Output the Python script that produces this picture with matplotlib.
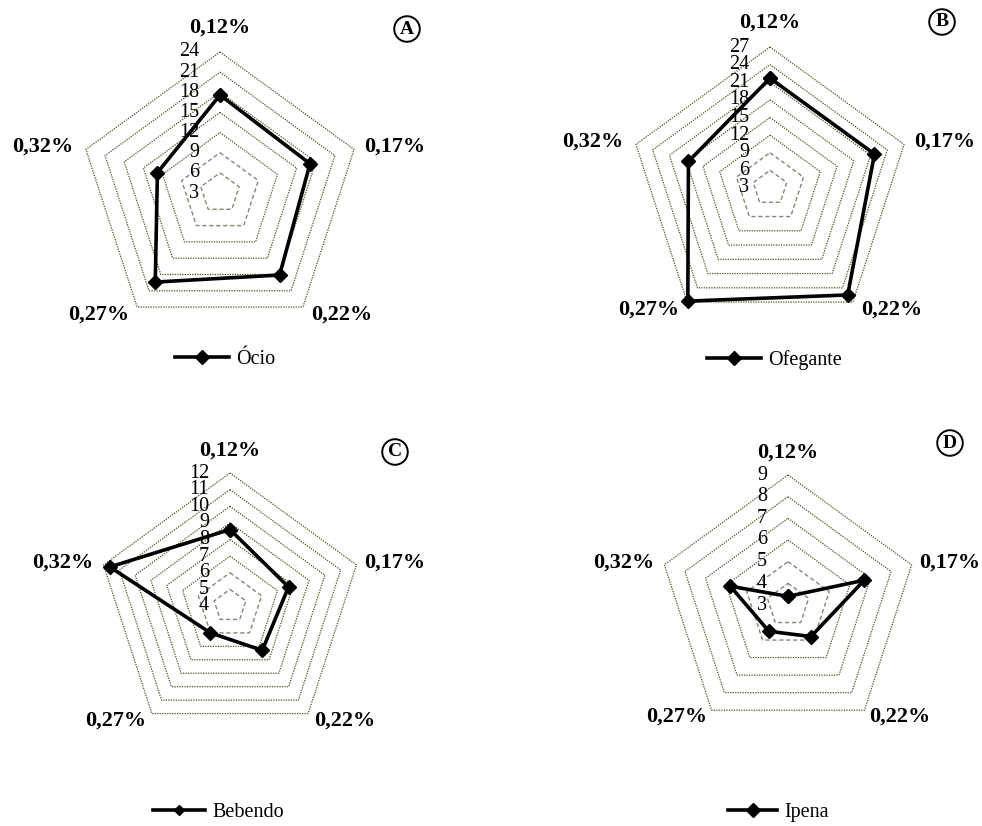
import numpy as np
import matplotlib.pyplot as plt

plt.rcParams['font.family'] = ['Liberation Serif', 'DejaVu Serif']

categorias = ['0,12%', '0,17%', '0,22%', '0,27%', '0,32%']

ocio = [17.6, 17.1, 18.1, 19.4, 12.8]
ofegante = [21.7, 21.7, 25.5, 26.8, 17.6]
bebendo = [8.6, 7.7, 7.3, 6.0, 11.6]
ipena = [3.4, 6.7, 4.8, 4.5, 5.8]

ticks_a = [3, 6, 9, 12, 15, 18, 21, 24]
ticks_b = [3, 6, 9, 12, 15, 18, 21, 24, 27]
ticks_c = [4, 5, 6, 7, 8, 9, 10, 11, 12]
ticks_d = [3, 4, 5, 6, 7, 8, 9]

W, H = 982, 826
fig = plt.figure(figsize=(W / 100, H / 100), dpi=100)

# eixos do radar: 0,12% no topo, sentido horario
ang = np.deg2rad(np.arange(5) * 72)
ux, uy = np.sin(ang), np.cos(ang)

# posicao dos rotulos das categorias (em unidades de raio)
pos_rot = [(0, 1.17), (1.24, 0.33), (0.86, -0.86), (-0.86, -0.86), (-1.26, 0.33)]

verde = '#3d5c1e'


def fechado(r):
    xs = r * ux
    ys = r * uy
    return np.append(xs, xs[0]), np.append(ys, ys[0])


def radar(caixa, cx, cy, R, ticks, valores, nome, letra, letra_xy, leg_xy,
          handle_len=2.7, mscale=1.0):
    x0, y0, x1, y1 = caixa
    ax = fig.add_axes([x0 / W, 1 - y1 / H, (x1 - x0) / W, (y1 - y0) / H])
    ax.set_xlim((x0 - cx) / R, (x1 - cx) / R)
    ax.set_ylim((cy - y1) / R, (cy - y0) / R)
    ax.axis('off')

    vmin, vmax = ticks[0], ticks[-1]

    def esc(v):
        return (np.asarray(v, float) - vmin) / (vmax - vmin)

    # grade pentagonal
    for i, t in enumerate(ticks[1:]):
        xs, ys = fechado(esc(t) * np.ones(5))
        if i < 2:
            ax.plot(xs, ys, color='#7d8a70', lw=1.0, ls=(0, (3, 2)))
        else:
            ax.plot(xs, ys, color=verde, lw=0.9, ls=(0, (1, 1)))

    for t in ticks:
        ax.text(-21 / R, esc(t), str(t), ha='right', va='center', fontsize=14.5)

    for (px, py), c in zip(pos_rot, categorias):
        ax.text(px, py, c, ha='center', va='center', fontsize=16, fontweight='bold')

    xs, ys = fechado(esc(valores))
    ax.plot(xs, ys, color='black', lw=2.6, marker='D', markersize=7.5,
            label=nome, solid_joinstyle='miter')

    lx, ly = letra_xy
    ax.text((lx - cx) / R, (cy - ly) / R, letra, ha='center', va='center',
            fontsize=14, fontweight='bold',
            bbox=dict(boxstyle='circle,pad=0.22', fc='white', ec='black', lw=1.4))

    ax.legend(loc='center left', bbox_to_anchor=(leg_xy[0] / W, 1 - leg_xy[1] / H),
              bbox_transform=fig.transFigure, frameon=False, fontsize=14.5,
              borderpad=0, borderaxespad=0, handlelength=handle_len,
              handletextpad=0.35, numpoints=1, markerscale=mscale)
    return ax


radar((0, 0, 491, 413), 220, 193, 141, ticks_a, ocio, 'Ócio', 'A', (407, 29), (175, 359))
radar((491, 0, 982, 413), 770, 188, 141, ticks_b, ofegante, 'Ofegante', 'B', (942, 22), (707, 360))
radar((0, 413, 491, 826), 230, 606, 133, ticks_c, bebendo, 'Bebendo', 'C', (395, 452),
      (153, 812), handle_len=2.6, mscale=0.7)
radar((491, 413, 982, 826), 788, 605, 130, ticks_d, ipena, 'Ipena', 'D', (950, 443),
      (728, 812), handle_len=2.45)

fig.savefig('out.png', dpi=100)
